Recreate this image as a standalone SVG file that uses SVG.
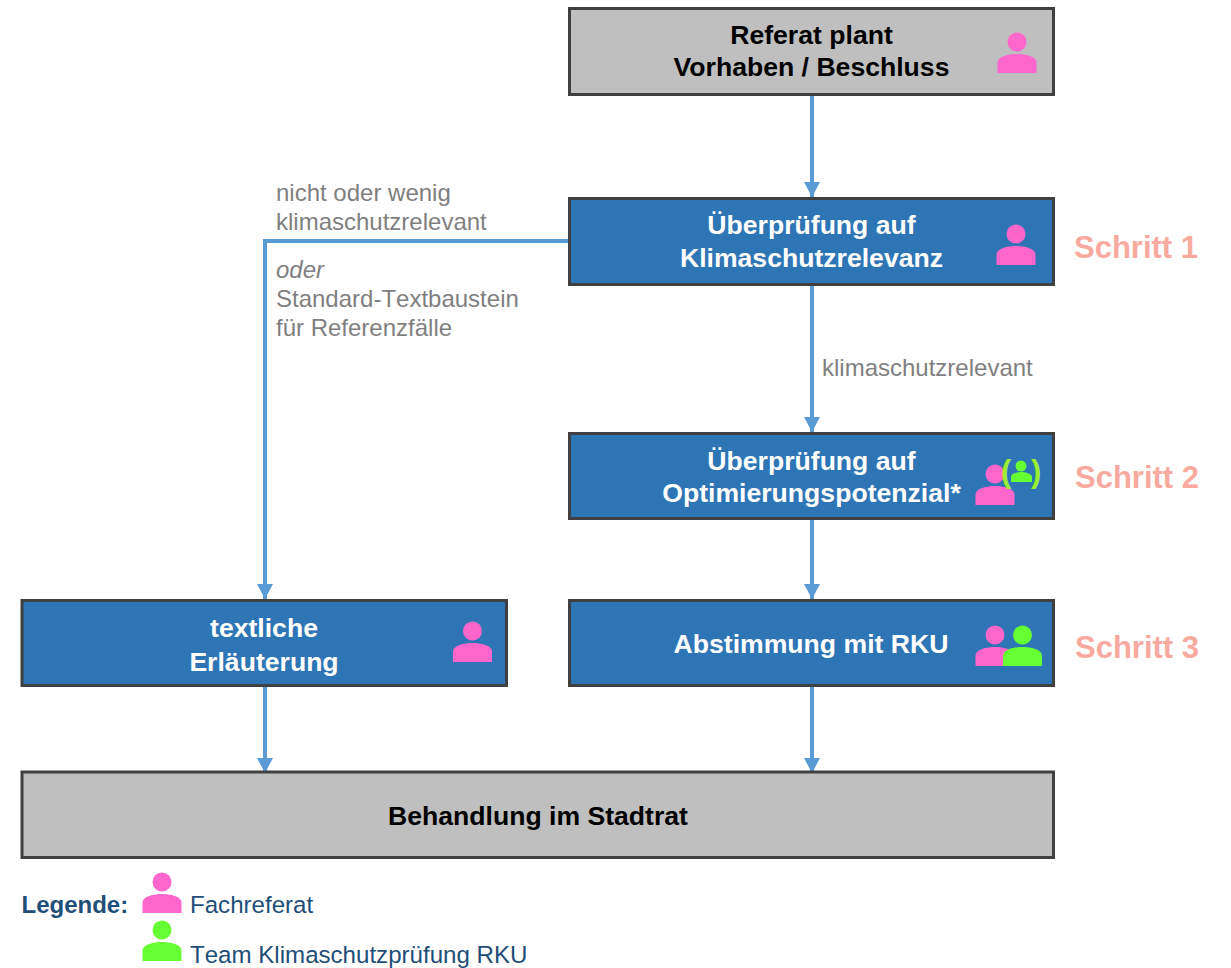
<svg xmlns="http://www.w3.org/2000/svg" width="1231" height="968" viewBox="0 0 1231 968">
<style>
text{font-family:"Liberation Sans",Arial,sans-serif}
.box{stroke:#404040;stroke-width:3}
.g{fill:#BFBFBF}.b{fill:#2E75B6}
.tk{font-size:26.6px;font-weight:bold;fill:#000;text-anchor:middle}
.tw{font-size:26.6px;font-weight:bold;fill:#fff;text-anchor:middle}
.lab{font-size:24px;fill:#7F7F7F}
.step{font-size:31px;font-weight:bold;fill:#F8A9A0}
.leg{font-size:24.1px;fill:#1F4E79}
.par{font-size:31px;font-weight:bold;fill:#99EE33}
.conn{fill:none;stroke:#5B9BD5;stroke-width:4}
.pk{fill:#FF66CC}.gr{fill:#66FF33}
</style>
<defs>
<marker id="arr" markerUnits="userSpaceOnUse" markerWidth="16" markerHeight="16" refX="15" refY="8" orient="auto"><path d="M0 0L15 8L0 16Z" fill="#5B9BD5"/></marker>
<symbol id="person" overflow="visible"><circle cx="0" cy="0" r="9.500"/><path d="M-19.500 31V21C-19.500 14-8 12 0 12S19.500 14 19.500 21V31Z"/></symbol>
</defs>
<g id="connectors">
<path class="conn" d="M812 95V197" marker-end="url(#arr)"/>
<path class="conn" d="M812 285V432" marker-end="url(#arr)"/>
<path class="conn" d="M812 519V599" marker-end="url(#arr)"/>
<path class="conn" d="M812 686V773" marker-end="url(#arr)"/>
<path class="conn" d="M569 241H265V599" marker-end="url(#arr)"/>
<path class="conn" d="M265 686V773" marker-end="url(#arr)"/>
</g>
<g id="node-referat">
<rect class="box g" x="569.500" y="8.500" width="484" height="86"/>
<text class="tk" x="811.500" y="44">Referat plant</text>
<text class="tk" x="811.500" y="76">Vorhaben / Beschluss</text>
<use href="#person" class="pk" x="1017" y="42"/>
</g>
<g id="node-relevanz">
<rect class="box b" x="569.500" y="198.500" width="484" height="86"/>
<text class="tw" x="811.500" y="234">Überprüfung auf</text>
<text class="tw" x="811.500" y="267">Klimaschutzrelevanz</text>
<use href="#person" class="pk" x="1016" y="234"/>
</g>
<g id="node-optimierung">
<rect class="box b" x="569.500" y="433.500" width="484" height="85"/>
<text class="tw" x="811.500" y="470">Überprüfung auf</text>
<text class="tw" x="811.500" y="502">Optimierungspotenzial*</text>
<use href="#person" class="pk" x="995" y="474"/>
<g class="gr"><circle cx="1021" cy="466" r="5.500"/><path d="M1011 482V477C1011 474 1016 472 1021 472S1032 474 1032 477V482Z"/></g>
<text class="par" x="1001" y="482">(</text>
<text class="par" x="1031" y="482">)</text>
</g>
<g id="node-abstimmung">
<rect class="box b" x="569.500" y="600.500" width="484" height="85"/>
<text class="tw" x="811" y="653">Abstimmung mit RKU</text>
<use href="#person" class="pk" x="995" y="635"/>
<use href="#person" class="gr" x="1022.500" y="635"/>
</g>
<g id="node-erlaeuterung">
<rect class="box b" x="22" y="600.500" width="484.500" height="85"/>
<text class="tw" x="264" y="637">textliche</text>
<text class="tw" x="264" y="671">Erläuterung</text>
<use href="#person" class="pk" x="472.500" y="631"/>
</g>
<g id="node-stadtrat">
<rect class="box g" x="22" y="772" width="1031.500" height="85.500"/>
<text class="tk" x="538" y="825">Behandlung im Stadtrat</text>
</g>
<g id="labels">
<text class="lab" x="276" y="201">nicht oder wenig</text>
<text class="lab" x="276" y="230">klimaschutzrelevant</text>
<text class="lab" x="276" y="278" font-style="italic">oder</text>
<text class="lab" x="276" y="307" style="font-kerning:none">Standard-Textbaustein</text>
<text class="lab" x="276" y="336">für Referenzfälle</text>
<text class="lab" x="822" y="376">klimaschutzrelevant</text>
<text class="step" x="1074" y="258">Schritt 1</text>
<text class="step" x="1075" y="488">Schritt 2</text>
<text class="step" x="1075" y="658">Schritt 3</text>
</g>
<g id="legend">
<text class="leg" x="21.500" y="913" font-weight="bold" style="font-size:24px">Legende:</text>
<use href="#person" class="pk" x="162" y="882"/>
<text class="leg" x="190" y="913">Fachreferat</text>
<use href="#person" class="gr" x="162" y="930"/>
<text class="leg" x="190" y="963" style="font-kerning:none">Team Klimaschutzprüfung RKU</text>
</g>
</svg>
